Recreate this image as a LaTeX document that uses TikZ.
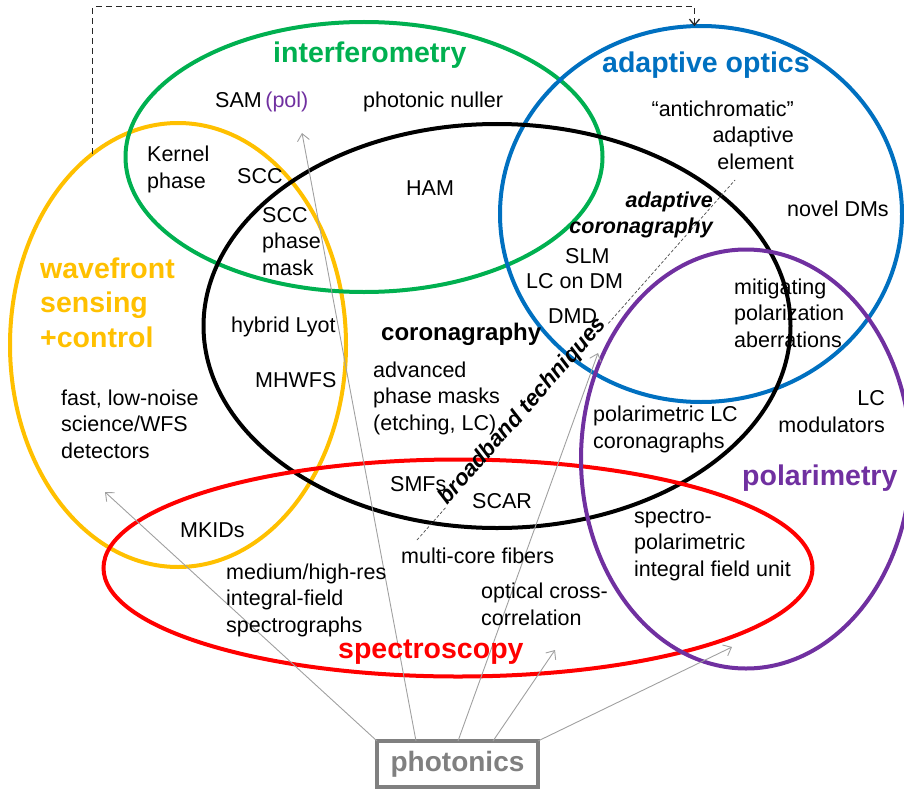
\documentclass[tikz,border=0pt]{standalone}
\usepackage{fontspec}
\setmainfont{Liberation Sans}
\usetikzlibrary{shapes.geometric,arrows.meta,calc}
\definecolor{cgreen}{HTML}{00B050}
\definecolor{cblue}{HTML}{0070C0}
\definecolor{cyel}{HTML}{FFC000}
\definecolor{cred}{HTML}{FF0000}
\definecolor{cpur}{HTML}{7030A0}
\definecolor{cgray}{HTML}{808080}
\definecolor{carrow}{HTML}{A0A0A0}
\begin{document}
\begin{tikzpicture}[x=1pt,y=-1pt,
 ring/.style={ellipse, draw, line width=4pt, inner sep=0pt, outer sep=0pt},
 lbl/.style={inner sep=0pt, align=left, anchor=base west, font=\fontsize{21.5}{26.5}\selectfont},
 lblr/.style={inner sep=0pt, align=right, anchor=base east, font=\fontsize{21.5}{26.5}\selectfont},
 ttl/.style={inner sep=0pt, align=left, anchor=base west, font=\fontsize{28.5}{34.5}\selectfont\bfseries},
 parr/.style={draw=carrow, line width=0.9pt, -{Straight Barb[length=7pt,width=12pt]}},
 bbline/.style={draw=black!70, line width=0.7pt, dash pattern=on 3pt off 2pt},
]
\useasboundingbox (0,0) rectangle (904,789);
% ellipses
\node[ring, draw=cyel, minimum width=336pt, minimum height=444pt] (wfs) at (178,345) {};
\node[ring, draw=cgreen, minimum width=477pt, minimum height=270pt] (int) at (364,157) {};
\node[ring, draw=cblue, minimum width=402pt, minimum height=376pt] (ao) at (701,214) {};
\node[ring, draw=black, minimum width=587pt, minimum height=404pt] (cor) at (497,326) {};
\node[ring, draw=cred, minimum width=709pt, minimum height=217pt] (spe) at (458,568) {};
\node[ring, draw=cpur, minimum width=330pt, minimum height=419pt] (pol) at (746,459) {};
% dashed feedback arrow
\draw[line width=1.3pt, dash pattern=on 6pt off 4pt, black!85, -{Straight Barb[length=6pt,width=10pt]}]
  (wfs.114) -- ++(0,-147) -| (ao.92.8);
% broadband techniques
\coordinate (bb1) at (417,540);
\coordinate (bb2) at (735,180);
\path (bb1) -- node[pos=0.346, sloped, anchor=base, inner sep=2pt, font=\fontsize{22.5}{27}\selectfont\bfseries\itshape] (bbt) {broadband techniques} (bb2);
\draw[bbline] (bb1) -- (bbt.base west);
\draw[bbline] (bbt.base east) -- (bb2);
% photonics
\node[draw=cgray, line width=3.5pt, fill=white, minimum width=161pt, minimum height=46pt, inner sep=0pt, outer sep=0pt, text=cgray, font=\fontsize{28}{34}\selectfont\bfseries] (ph) at (457.5,764) {photonics};
\coordinate (t1) at (105,492);
\coordinate (t2) at (302,133);
\coordinate (t3) at (598,353);
\coordinate (t4) at (555,650);
\coordinate (t5) at (732,647);
\draw[parr] (ph.north west) -- (t1);
\draw[parr] ([xshift=39pt]ph.north west) -- (t2);
\draw[parr] ([xshift=81pt]ph.north west) -- (t3);
\draw[parr] ([xshift=116pt]ph.north west) -- (t4);
\draw[parr] (ph.north east) -- (t5);
% titles
\node[ttl, text=cgreen] (tint) at (273,63) {interferometry};
\node[ttl, text=cblue] (tao) at (602,73) {adaptive optics};
\node[ttl, text=cyel] (twfs) at (40,347) {wavefront\\sensing\\+control};
\node[ttl, text=cred] (tspe) at (338,658) {spectroscopy};
\node[ttl, text=cpur] (tpol) at (742,485) {polarimetry};
\node[inner sep=0pt, anchor=base west, font=\fontsize{24}{29}\selectfont\bfseries] (tcor) at (381,340) {coronagraphy};
% labels (anchor = baseline of last line)
\node[lbl] (sam) at (215,108) {SAM\,\textcolor{cpur}{(pol)}};
\node[lbl] (pn) at (363,108) {photonic nuller};
\node[lbl] (kp) at (147,188) {Kernel\\phase};
\node[lbl] (scc) at (237,183) {SCC};
\node[lbl] (sccpm) at (262,275) {SCC\\phase\\mask};
\node[lbl] (ham) at (406,195) {HAM};
\node[lblr] (anti) at (794,169) {“antichromatic”\\adaptive\\element};
\node[lbl] (ndm) at (787,216) {novel DMs};
\node[lblr, font=\fontsize{21.5}{26}\selectfont\bfseries\itshape] (adc) at (713,233) {adaptive\\coronagraphy};
\node[lbl] (slm) at (565,263) {SLM};
\node[lbl] (lcdm) at (526,288) {LC on DM};
\node[lbl] (dmd) at (548,323) {DMD};
\node[lbl] (hl) at (231,332) {hybrid Lyot};
\node[lbl] (mh) at (255,387) {MHWFS};
\node[lbl] (apm) at (373,430) {advanced\\phase masks\\(etching, LC)};
\node[lbl] (det) at (61,458) {fast, low-noise\\science/WFS\\detectors};
\node[lbl] (mkid) at (180,537) {MKIDs};
\node[lbl] (ifs) at (226,632) {medium/high-res\\integral-field\\spectrographs};
\node[lbl] (smf) at (390,491) {SMFs};
\node[lbl] (scar) at (472,508) {SCAR};
\node[lbl] (mcf) at (401,563) {multi-core fibers};
\node[lbl] (occ) at (481,625) {optical cross-\\correlation};
\node[lbl] (plc) at (593,448) {polarimetric LC\\coronagraphs};
\node[lblr] (lcm) at (885,432) {LC\\modulators};
\node[lbl] (spifu) at (634,576) {spectro-\\polarimetric\\integral field unit};
\node[lbl] (mpa) at (734,347) {mitigating\\polarization\\aberrations};
\end{tikzpicture}
\end{document}
